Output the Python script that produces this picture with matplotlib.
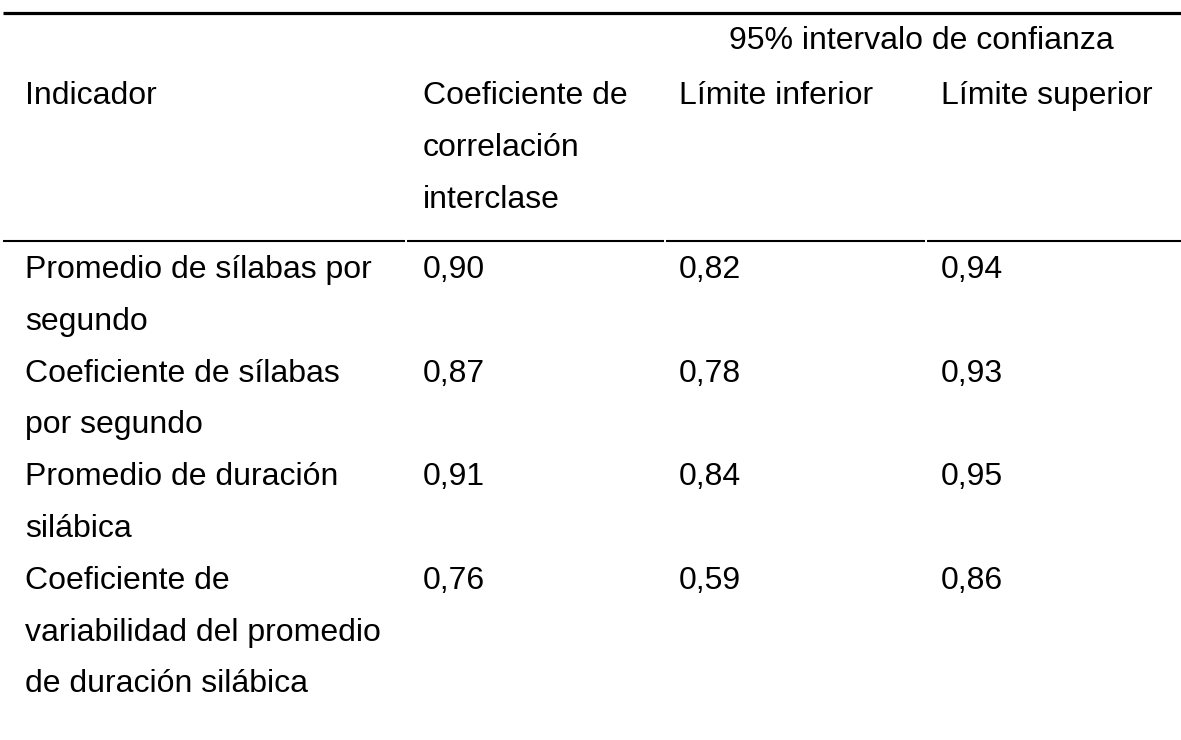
import matplotlib
matplotlib.use("Agg")
import matplotlib.pyplot as plt

plt.rcParams['font.family'] = ['Liberation Sans', 'DejaVu Sans']

# ---- data ----
header_group = "95% intervalo de confianza"
col_headers = [
    ["Indicador"],
    ["Coeficiente de", "correlación", "interclase"],
    ["Límite inferior"],
    ["Límite superior"],
]
indicators = [
    ["Promedio de sílabas por", "segundo"],
    ["Coeficiente de sílabas", "por segundo"],
    ["Promedio de duración", "silábica"],
    ["Coeficiente de", "variabilidad del promedio", "de duración silábica"],
]
coef_icc = [0.90, 0.87, 0.91, 0.76]
lower_ci = [0.82, 0.78, 0.84, 0.59]
upper_ci = [0.94, 0.93, 0.95, 0.86]

W, H = 1181, 740
fig = plt.figure(figsize=(W / 100, H / 100), dpi=100)
ax = fig.add_axes([0, 0, 1, 1])
ax.set_xlim(0, W)
ax.set_ylim(H, 0)
ax.axis('off')

fs = 23
pitch = 51.8
col_x = [25, 423, 679, 941]
cell_edges = [(3, 405), (407, 664), (666, 925), (927, W)]

def fmt(v):
    return f"{v:.2f}".replace('.', ',')

# top rule
ax.plot([3, W], [12.5, 12.5], color='black', lw=2.3, solid_capstyle='butt')

# group header
ax.text(729, 49, header_group, fontsize=fs, va='baseline', ha='left')

# column headers
base_hdr = 104
for x, lines in zip(col_x, col_headers):
    for i, t in enumerate(lines):
        ax.text(x, base_hdr + i * 52, t, fontsize=fs, va='baseline', ha='left')

# header bottom rule (segmented per cell)
for x0, x1 in cell_edges:
    ax.plot([x0, x1], [240.5, 240.5], color='black', lw=1.5, solid_capstyle='butt')

# body rows
y = 278
for name_lines, c, lo, up in zip(indicators, coef_icc, lower_ci, upper_ci):
    for i, t in enumerate(name_lines):
        ax.text(col_x[0], y + i * pitch, t, fontsize=fs, va='baseline', ha='left')
    for x, v in zip(col_x[1:], (c, lo, up)):
        ax.text(x, y, fmt(v), fontsize=fs, va='baseline', ha='left')
    y += pitch * max(2, len(name_lines))

fig.savefig("out.png", dpi=100, facecolor='white')
